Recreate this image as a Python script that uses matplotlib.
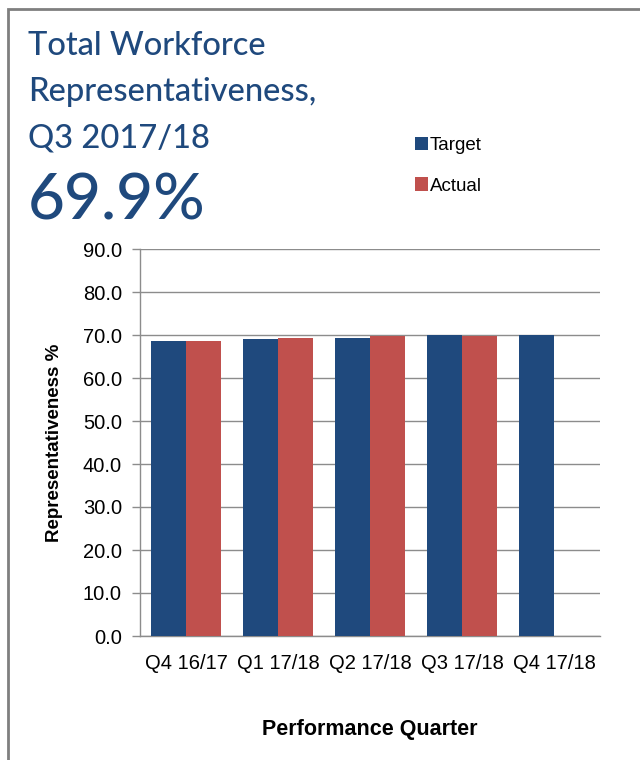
import numpy as np
import matplotlib.pyplot as plt
from matplotlib.patches import Rectangle

plt.rcParams['font.family'] = ['Liberation Sans', 'DejaVu Sans']

# data
quarters = ['Q4 16/17', 'Q1 17/18', 'Q2 17/18', 'Q3 17/18', 'Q4 17/18']
target = [68.6, 69.1, 69.4, 69.9, 70.1]
actual = [68.6, 69.4, 69.7, 69.7, np.nan]
yticks = np.arange(0, 91, 10)
title_lines = ['Total Workforce', 'Representativeness,', 'Q3 2017/18']
headline = '69.9%'

blue = '#1F497D'
red = '#C0504D'
grey = '#8C8C8C'

fig = plt.figure(figsize=(6.4, 7.6), dpi=100)
ax = fig.add_axes([140/640, 1-636/760, 460/640, 387/760])

x = np.arange(len(quarters))
w = 0.38
ax.bar(x - w/2, target, w, color=blue, label='Target', zorder=3)
ax.bar(x + w/2, actual, w, color=red, label='Actual', zorder=3)

ax.set_xlim(-0.5, len(quarters) - 0.5)
ax.set_ylim(0, 90)
ax.set_yticks(yticks)
ax.set_yticklabels(['%.1f' % v for v in yticks], fontsize=14.5)
ax.set_xticks(x)
ax.set_xticklabels(quarters, fontsize=14.5)
ax.tick_params(axis='x', length=0, pad=13)
ax.tick_params(axis='y', length=6, color=grey, width=1, pad=7)
ax.yaxis.grid(True, color=grey, linewidth=1, zorder=0)
for s in ['top', 'right']:
    ax.spines[s].set_visible(False)
for s in ['left', 'bottom']:
    ax.spines[s].set_color(grey)
    ax.spines[s].set_linewidth(1)

ax.set_ylabel('Representativeness %', fontsize=13.5, fontweight='bold', labelpad=14)
ax.set_xlabel('Performance Quarter', fontsize=15.5, fontweight='bold', labelpad=33)

ax.legend(loc='upper left', bbox_to_anchor=(398/640, 1-120/760), bbox_transform=fig.transFigure,
          frameon=False, fontsize=13.5, handlelength=0.7, handleheight=0.7,
          handletextpad=0.1, labelspacing=1.25)

for i, line in enumerate(title_lines):
    fig.text(28/640, 1-(55 + 46*i)/760, line, fontsize=23.5, color=blue,
             family=['Lato', 'DejaVu Sans'], fontweight='medium',
             va='baseline', ha='left')
fig.text(28/640, 1-220/760, headline, fontsize=46, color=blue,
         family=['Lato', 'DejaVu Sans'], fontweight='medium',
         va='baseline', ha='left')

# outer frame
fig.patches.append(Rectangle((8/640, -0.05), 1.1, 1 - 9/760 + 0.05, transform=fig.transFigure,
                             fill=False, edgecolor='#7F7F7F', linewidth=2))

fig.savefig('out.png', dpi=100)
